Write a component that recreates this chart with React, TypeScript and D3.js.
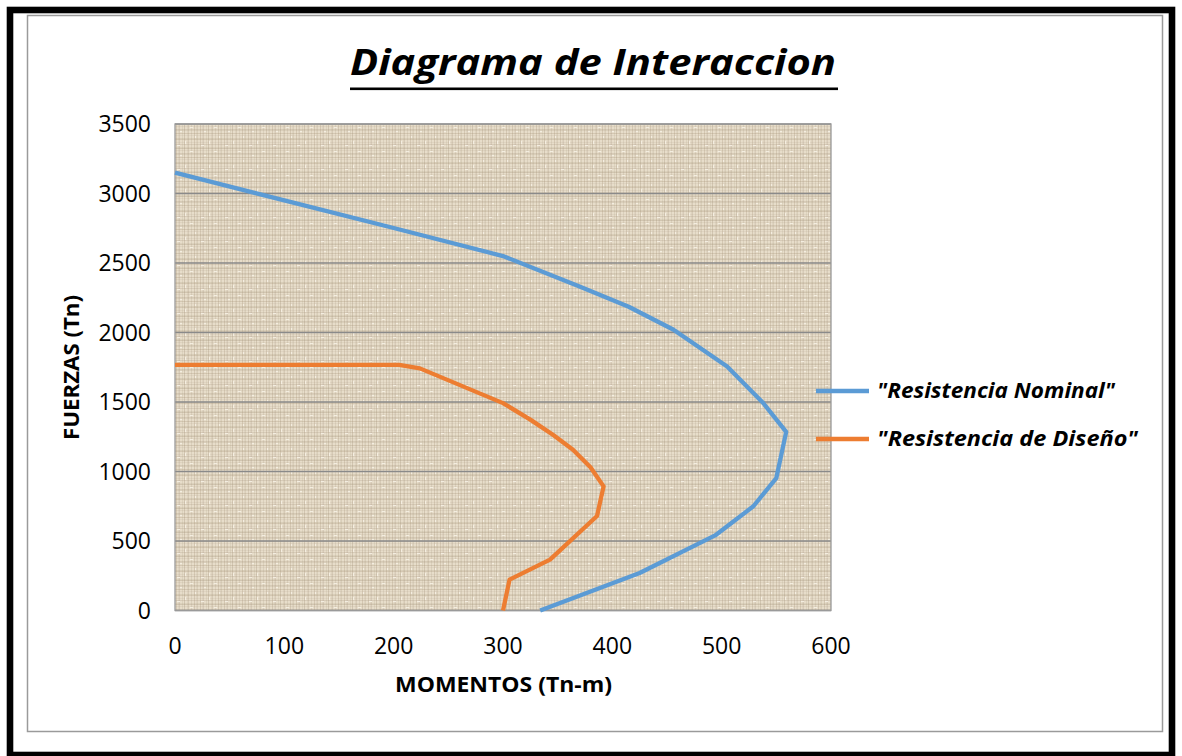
import React from "react";
import * as d3 from "d3";

const title = "Diagrama de Interaccion";
const xTitle = "MOMENTOS (Tn-m)";
const yTitle = "FUERZAS (Tn)";
const xTicks = [0, 100, 200, 300, 400, 500, 600];
const yTicks = [0, 500, 1000, 1500, 2000, 2500, 3000, 3500];

const seriesNames = ['"Resistencia Nominal"', '"Resistencia de Diseño"'];
const seriesColors = ["#5b9bd5", "#ed7d31"];

// [Momento, Fuerza]
const nominalM = [0, 100, 200, 300, 370, 415, 456, 505, 538, 559, 550, 529, 494, 425, 334];
const nominalP = [3150, 2950, 2752, 2550, 2331, 2185, 2020, 1756, 1493, 1285, 953, 750, 540, 270, 0];
const designM = [0, 205, 224, 300, 325, 346, 364, 380, 392, 386, 343, 306, 300];
const designP = [1767, 1767, 1742, 1492, 1373, 1262, 1157, 1030, 893, 680, 366, 222, 0];

const W = 1182;
const H = 756;
const plot = { left: 175, right: 831, top: 124, bottom: 610.5 };
const legendTextLen = [238, 261];

export default function App() {
  const x = d3.scaleLinear().domain([0, 600]).range([plot.left, plot.right]);
  const y = d3.scaleLinear().domain([0, 3500]).range([plot.bottom, plot.top]);

  const mk = (ms: number[], ps: number[]) =>
    d3
      .line<number>()
      .x((_, i) => x(ms[i]))
      .y((_, i) => y(ps[i]))(ms) as string;

  const paths = [mk(nominalM, nominalP), mk(designM, designP)];

  // deterministic texture lines
  const vLines = [1, 3, 4, 7, 9, 12, 13, 16, 19, 21, 22];
  const hLines = [0, 2, 5, 6, 9, 11, 14, 15, 18, 20, 23];
  const vOp = [0.28, 0.1, 0.22, 0.14, 0.3, 0.12, 0.24, 0.18, 0.28, 0.1, 0.2];

  const font = "'Open Sans', 'DejaVu Sans', sans-serif";

  return (
    <svg
      width={W}
      height={H}
      style={{ position: "absolute", left: 0, top: 0, background: "#fff" }}
      fontFamily={font}
    >
      <defs>
        <pattern id="tex" width="24" height="24" patternUnits="userSpaceOnUse" x={plot.left} y={plot.top}>
          <rect width="24" height="24" fill="#e7ddca" />
          {vLines.map((v, i) => (
            <rect key={"v" + i} x={v} y={0} width={1} height={24} fill="#a08f74" opacity={vOp[i]} />
          ))}
          {hLines.map((h, i) => (
            <rect key={"h" + i} x={0} y={h} width={24} height={1} fill="#a08f74" opacity={vOp[(i + 4) % vOp.length]} />
          ))}
          <rect x={5} y={7} width={2} height={1} fill="#f5f0e4" opacity={0.9} />
          <rect x={15} y={3} width={3} height={1} fill="#f5f0e4" opacity={0.9} />
          <rect x={10} y={17} width={1} height={3} fill="#f5f0e4" opacity={0.9} />
          <rect x={20} y={12} width={1} height={2} fill="#f5f0e4" opacity={0.9} />
          <rect x={2} y={21} width={3} height={1} fill="#f5f0e4" opacity={0.9} />
        </pattern>
      </defs>

      {/* outer black frame */}
      <rect x={10} y={10} width={1162} height={745} fill="none" stroke="#000" strokeWidth={6.6} />
      {/* chart area border */}
      <rect x={27.5} y={15.5} width={1135} height={716} fill="#fff" stroke="#9a9a9a" strokeWidth={1.5} />

      {/* title */}
      <text
        x={350}
        y={75}
        fontSize={36}
        fontWeight="bold"
        fontStyle="italic"
        fill="#000"
        textLength={486}
        lengthAdjust="spacingAndGlyphs"
      >
        {title}
      </text>
      <rect x={350} y={87.5} width={488} height={2.6} fill="#000" />

      {/* plot background */}
      <rect
        x={plot.left}
        y={plot.top}
        width={plot.right - plot.left}
        height={plot.bottom - plot.top}
        fill="url(#tex)"
      />

      {/* gridlines */}
      {yTicks.map((t) => (
        <line
          key={"g" + t}
          x1={plot.left}
          x2={plot.right}
          y1={y(t)}
          y2={y(t)}
          stroke="#8a8a8a"
          strokeWidth={1.3}
        />
      ))}
      <rect
        x={plot.left}
        y={plot.top}
        width={plot.right - plot.left}
        height={plot.bottom - plot.top}
        fill="none"
        stroke="#9a9a9a"
        strokeWidth={1.3}
      />

      {/* y tick labels */}
      {yTicks.map((t) => (
        <text key={"yt" + t} x={151} y={y(t) + 8} textAnchor="end" fontSize={23} fill="#000">
          {t}
        </text>
      ))}
      {/* x tick labels */}
      {xTicks.map((t) => (
        <text key={"xt" + t} x={x(t)} y={654} textAnchor="middle" fontSize={23} fill="#000">
          {t}
        </text>
      ))}

      {/* axis titles */}
      <text
        x={395}
        y={692}
        fontSize={21}
        fontWeight="bold"
        fill="#000"
        textLength={217}
        lengthAdjust="spacingAndGlyphs"
      >
        {xTitle}
      </text>
      <text
        transform={`translate(79, 440) rotate(-90)`}
        fontSize={21}
        fontWeight="bold"
        fill="#000"
        textLength={145}
        lengthAdjust="spacingAndGlyphs"
      >
        {yTitle}
      </text>

      {/* series */}
      {paths.map((p, i) => (
        <path
          key={"s" + i}
          d={p}
          fill="none"
          stroke={seriesColors[i]}
          strokeWidth={4.3}
          strokeLinejoin="round"
        />
      ))}

      {/* legend */}
      {seriesNames.map((n, i) => (
        <g key={"l" + i} transform={`translate(0, ${i * 48})`}>
          <line x1={816} x2={869} y1={391} y2={391} stroke={seriesColors[i]} strokeWidth={4.3} />
          <text
            x={877}
            y={398}
            fontSize={21}
            fontWeight="bold"
            fontStyle="italic"
            fill="#000"
            textLength={legendTextLen[i]}
            lengthAdjust="spacingAndGlyphs"
          >
            {n}
          </text>
        </g>
      ))}
    </svg>
  );
}
